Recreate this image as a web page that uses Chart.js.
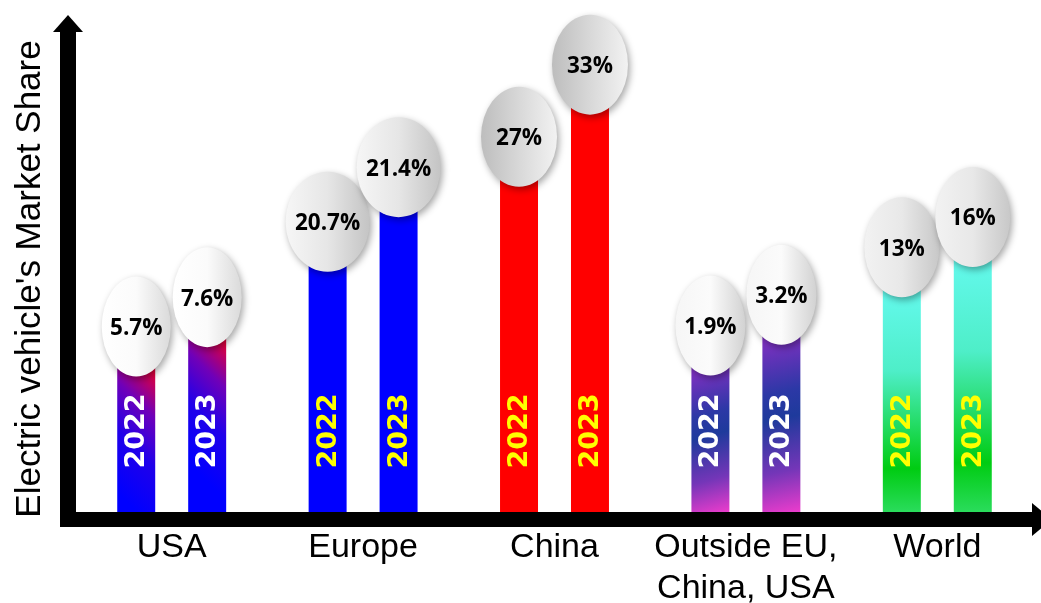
<!DOCTYPE html>
<html><head><meta charset="utf-8">
<script src="https://cdn.jsdelivr.net/npm/chart.js@4/dist/chart.umd.min.js"></script>
<style>html,body{margin:0;padding:0;background:#fff}#wrap{width:1041px;height:603px;position:relative}</style>
</head><body><div id="wrap"><canvas id="c"></canvas></div>
<script>
// ---- data ----
const categories = ['USA', 'Europe', 'China', ['Outside EU,', 'China, USA'], 'World'];
const seriesLabels = ['2022', '2023'];
const share2022 = [5.7, 20.7, 27, 1.9, 13];
const share2023 = [7.6, 21.4, 33, 3.2, 16];
// drawn bar heights (visual units, axis 0-100)
const barHeight2022 = [39.8, 62.3, 80.5, 40.0, 56.8];
const barHeight2023 = [46.1, 74.0, 96.0, 46.6, 63.3];
const yAxisTitle = "Electric vehicle's Market Share";

// ---- styles ----
const CAT_PCT = 0.7415, BAR_PCT = 0.5352;
const barKinds = ['usa', 'blue', 'red', 'outside', 'world'];
const yearColors = ['#ffffff', '#ffff00', '#ffff00', '#ffffff', '#ffff00'];
const bubbleW = [69, 84, 76, 70, 75];
const bubbleH = 100;
const bubbleShades = [
  ['#ffffff', '#fbfbfb', '#dadada'],
  ['#f6f6f6', '#e6e6e6', '#c4c4c4'],
  ['#bdbdbd', '#d8d8d8', '#f2f2f2'],
  ['#f6f6f6', '#fbfbfb', '#d2d2d2'],
  ['#f2f2f2', '#e8e8e8', '#c8c8c8']
];

function barGeom(chart, ds, i, value) {
  const xs = chart.scales.x, ys = chart.scales.y;
  const cx = xs.getPixelForValue(i);
  const cat = xs.width / categories.length;
  const slot = cat * CAT_PCT / 2;
  const c = cx + (ds - 0.5) * slot;
  const w = slot * BAR_PCT;
  return {left: c - w / 2, right: c + w / 2, top: ys.getPixelForValue(value), base: ys.getPixelForValue(0)};
}

function barFill(context) {
  const chart = context.chart;
  const i = context.dataIndex, ds = context.datasetIndex;
  const kind = barKinds[i];
  if (kind === 'blue') return '#0000ff';
  if (kind === 'red') return '#ff0000';
  if (!chart.scales || !chart.scales.x || !chart.chartArea) return '#0000ff';
  const val = context.dataset.data[i];
  const g = barGeom(chart, ds, i, val);
  const vis = g.top + 48; // first row visible below the bubble
  const ctx = chart.ctx;
  if (kind === 'usa') {
    const L = 110, k = L / Math.SQRT2;
    const gr = ctx.createLinearGradient(g.right - k, vis + k, g.right, vis);
    gr.addColorStop(0, '#0000ff');
    gr.addColorStop(0.4, '#2000ea');
    gr.addColorStop(0.72, '#7000b8');
    gr.addColorStop(1, '#e0003c');
    return gr;
  }
  if (kind === 'outside') {
    const gr = ctx.createLinearGradient(g.left, vis, g.right, g.base);
    gr.addColorStop(0, '#7c30c0');
    gr.addColorStop(0.3, '#2c38a6');
    gr.addColorStop(0.45, '#1e3a9c');
    gr.addColorStop(0.75, '#7436b8');
    gr.addColorStop(1, '#ec3ccc');
    return gr;
  }
  const gr = ctx.createLinearGradient(0, vis, 0, g.base);
  gr.addColorStop(0, '#62f8ea');
  gr.addColorStop(0.35, '#4eeec8');
  gr.addColorStop(0.8, '#00cc12');
  gr.addColorStop(1, '#2adc5c');
  return gr;
}

const decorPlugin = {
  id: 'decor',
  afterDatasetsDraw(chart) {
    const ctx = chart.ctx, a = chart.chartArea;
    // axes with arrowheads
    ctx.save();
    ctx.fillStyle = '#000';
    const axL = a.left - 16, axB = a.bottom + 15;
    ctx.fillRect(axL, a.top - 14, 16, axB - (a.top - 14));
    ctx.beginPath();
    ctx.moveTo(axL - 7, a.top - 14); ctx.lineTo(axL + 23, a.top - 14); ctx.lineTo(axL + 8, a.top - 31); ctx.closePath(); ctx.fill();
    ctx.fillRect(axL, a.bottom, 1032 - axL, 15);
    ctx.beginPath();
    ctx.moveTo(1032, a.bottom - 9); ctx.lineTo(1032, a.bottom + 24); ctx.lineTo(1052, a.bottom + 7.5); ctx.closePath(); ctx.fill();
    ctx.restore();

    chart.data.datasets.forEach((ds, di) => {
      const meta = chart.getDatasetMeta(di);
      const shares = di === 0 ? share2022 : share2023;
      meta.data.forEach((bar, i) => {
        // year label inside bar
        ctx.save();
        ctx.translate(bar.x, bar.base - 81);
        ctx.rotate(-Math.PI / 2);
        ctx.font = 'bold 27px "DejaVu Sans"';
        ctx.fillStyle = yearColors[i];
        ctx.textAlign = 'center';
        ctx.textBaseline = 'middle';
        ctx.fillText(ds.label, 0, 1);
        ctx.restore();
        // bubble
        const w = bubbleW[i], h = bubbleH;
        ctx.save();
        const gr = ctx.createLinearGradient(bar.x - w / 2, 0, bar.x + w / 2, 0);
        const s = bubbleShades[i];
        gr.addColorStop(0, s[0]); gr.addColorStop(0.5, s[1]); gr.addColorStop(1, s[2]);
        ctx.shadowColor = 'rgba(0,0,0,0.35)';
        ctx.shadowBlur = 7;
        ctx.shadowOffsetX = 2;
        ctx.shadowOffsetY = 3;
        ctx.fillStyle = gr;
        ctx.beginPath();
        ctx.ellipse(bar.x, bar.y, w / 2, h / 2, 0, 0, Math.PI * 2);
        ctx.fill();
        ctx.restore();
        ctx.save();
        ctx.font = 'bold 22.5px "Open Sans"';
        ctx.fillStyle = '#000';
        ctx.textAlign = 'center';
        ctx.textBaseline = 'middle';
        ctx.fillText(shares[i] + '%', bar.x, bar.y + 2);
        ctx.restore();
      });
    });
  }
};

Chart.defaults.font.family = '"Liberation Sans", Arial, sans-serif';
Chart.defaults.color = '#000';

new Chart(document.getElementById('c'), {
  type: 'bar',
  data: {
    labels: categories,
    datasets: [
      {label: seriesLabels[0], data: barHeight2022, backgroundColor: barFill, borderWidth: 0},
      {label: seriesLabels[1], data: barHeight2023, backgroundColor: barFill, borderWidth: 0}
    ]
  },
  options: {
    responsive: true,
    maintainAspectRatio: false,
    animation: false,
    categoryPercentage: CAT_PCT,
    barPercentage: BAR_PCT,
    layout: {padding: {left: 0, right: 8, top: 46, bottom: 0}},
    plugins: {legend: {display: false}, tooltip: {enabled: false}},
    scales: {
      x: {
        offset: true,
        grid: {display: false, drawTicks: false},
        border: {display: false},
        ticks: {font: {size: 34, lineHeight: 1.2}, color: '#000', padding: 15.6, maxRotation: 0, autoSkip: false},
        afterFit(s) { s.height = 91; }
      },
      y: {
        min: 0, max: 100,
        grid: {display: false, drawTicks: false},
        border: {display: false},
        ticks: {display: false},
        title: {display: true, text: yAxisTitle, font: {size: 35, lineHeight: 1.2}, color: '#000', padding: {top: 9, bottom: 0}},
        afterFit(s) { s.width = 76; }
      }
    }
  },
  plugins: [decorPlugin]
});
</script>
</body></html>
